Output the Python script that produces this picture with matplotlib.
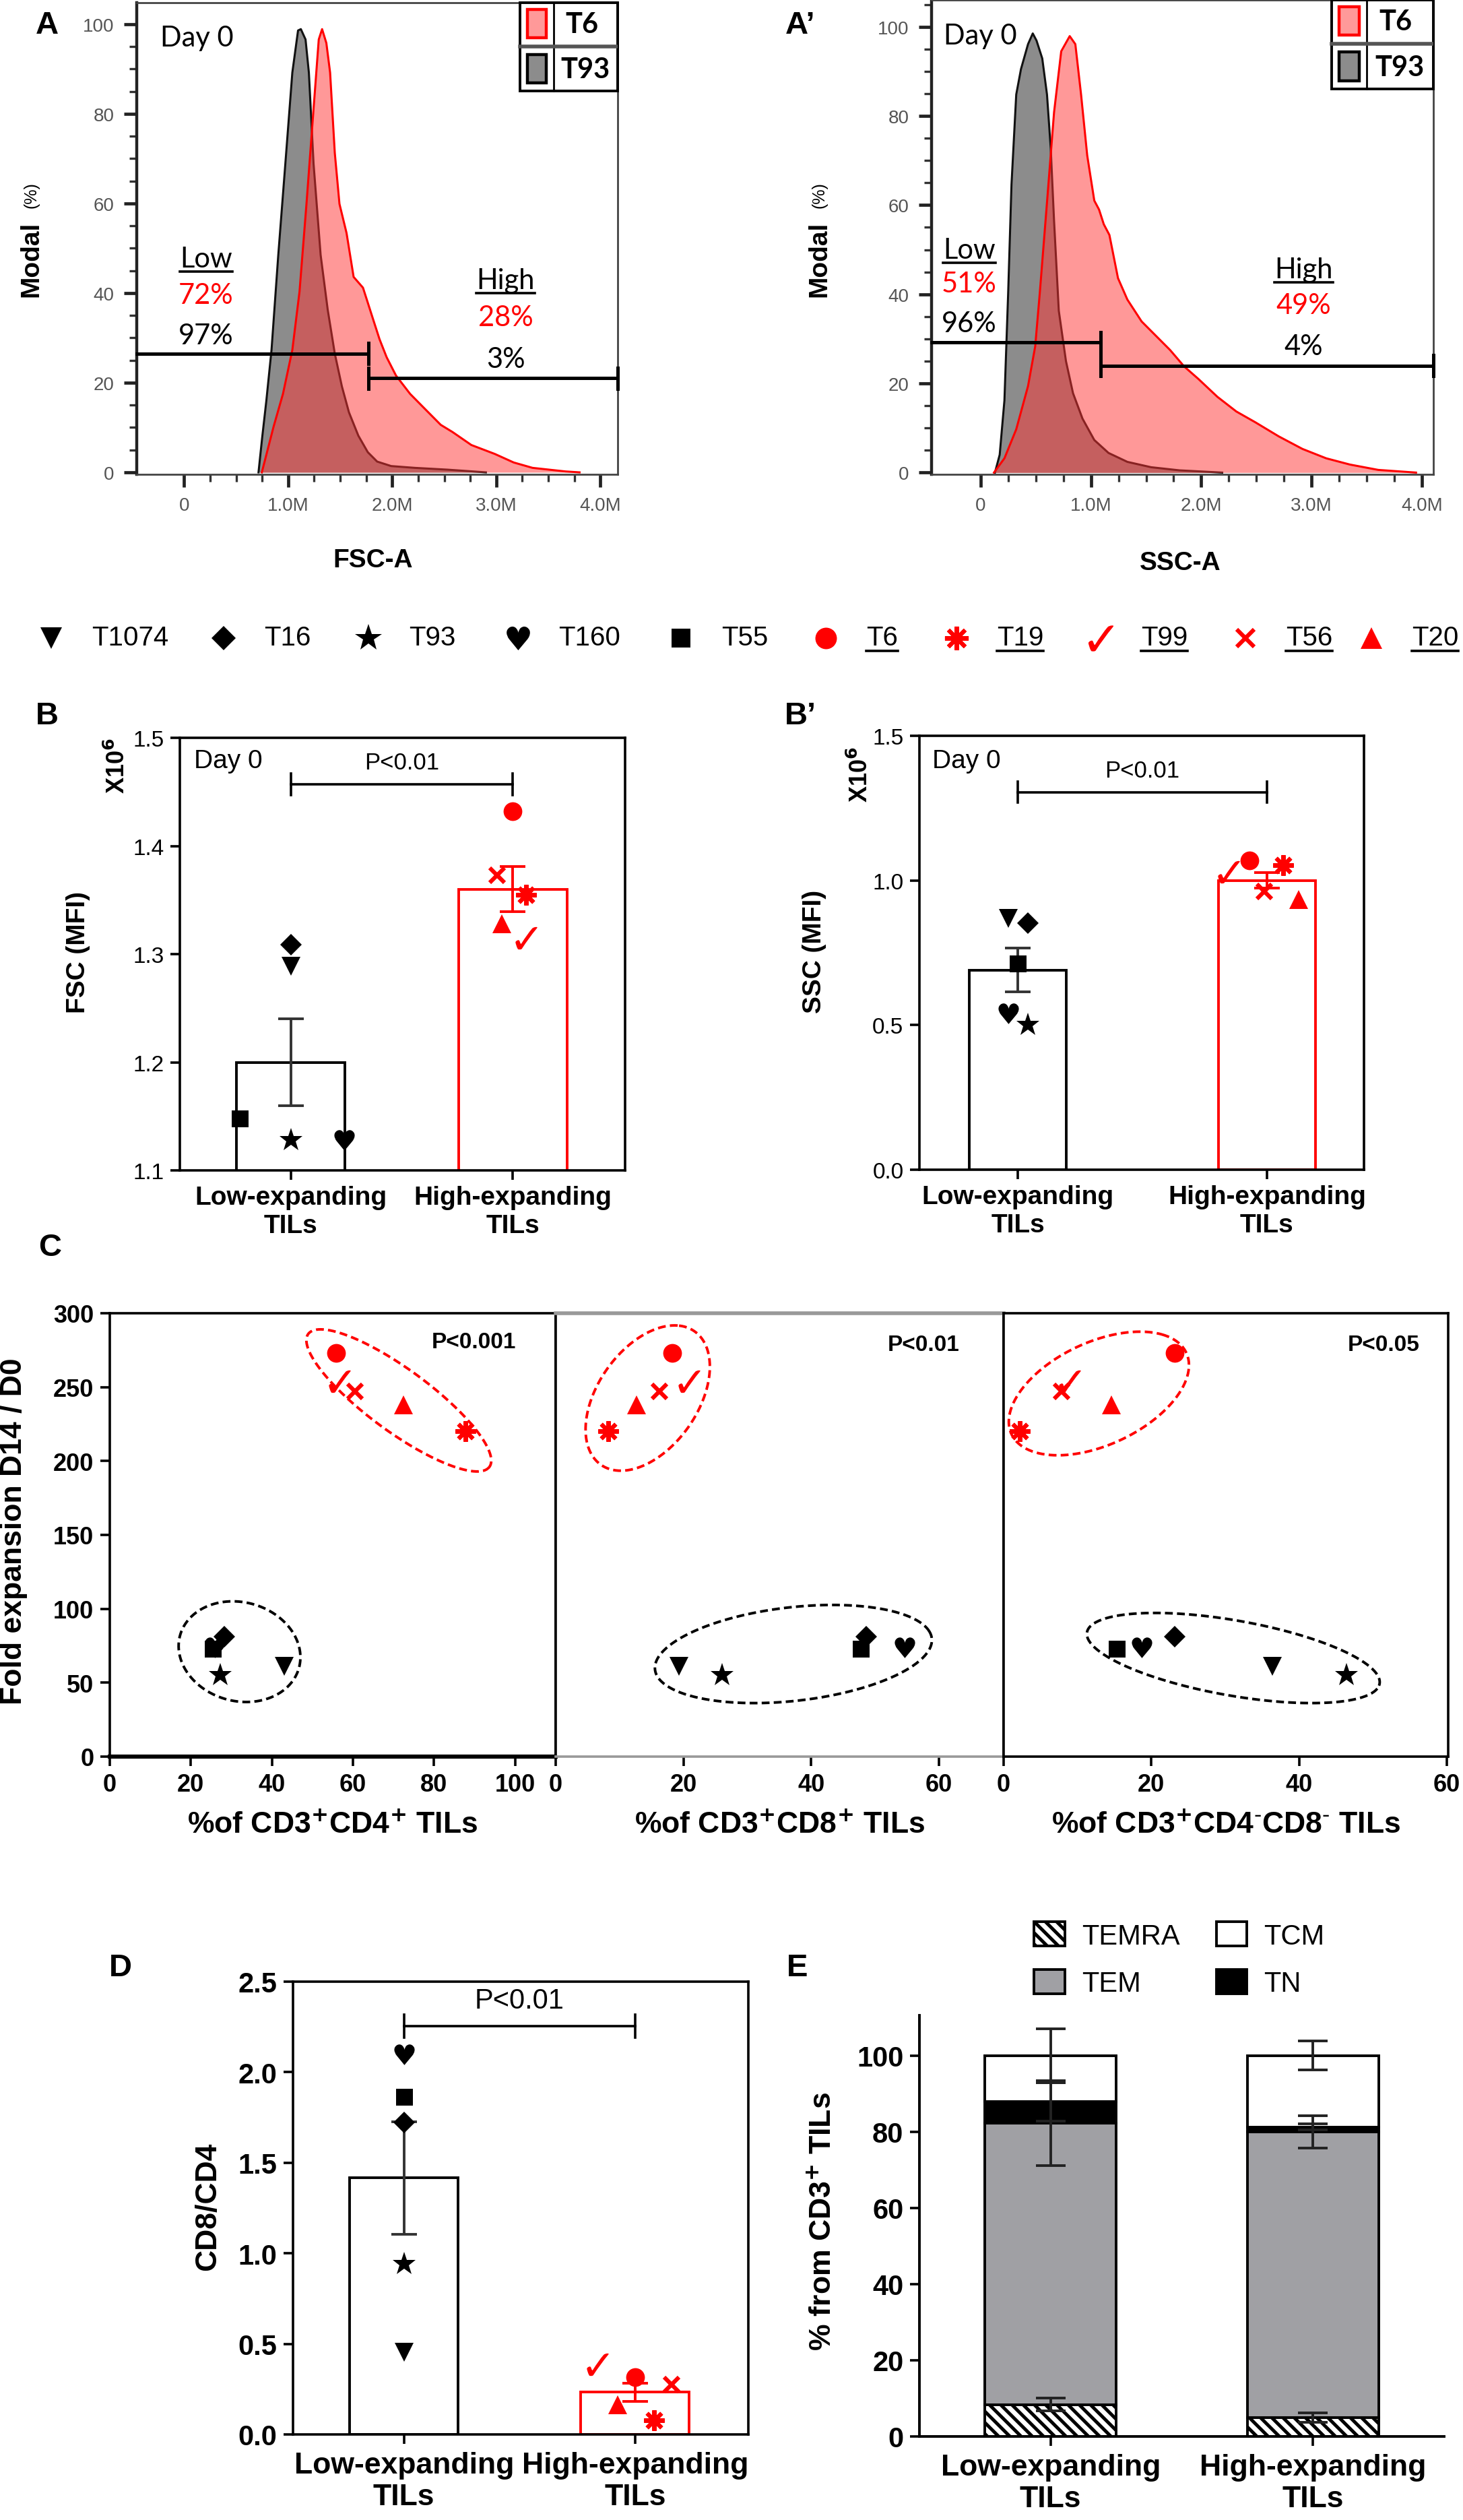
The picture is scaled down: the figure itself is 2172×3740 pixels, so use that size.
import numpy as np
import matplotlib
matplotlib.use('Agg')
import matplotlib.pyplot as plt
from matplotlib.patches import Patch, Rectangle
from matplotlib.lines import Line2D
from matplotlib.ticker import FixedLocator, MultipleLocator

plt.rcParams['font.family'] = ['Liberation Sans', 'DejaVu Sans']
plt.rcParams['hatch.linewidth'] = 1.8
CAL = ['Lato', 'DejaVu Sans']

W, H, DPI = 2172, 3741, 200

# ---------------- A / A' : day-0 histograms (x in millions, y in % of mode) ----------------
fsc_t93_x = [0.715, 0.75, 0.79, 0.84, 0.905, 0.973, 1.04, 1.095, 1.122, 1.167, 1.199, 1.244,
             1.312, 1.38, 1.448, 1.516, 1.584, 1.674, 1.765, 1.855, 1.99, 2.217, 2.53, 2.9]
fsc_t93_y = [0, 7.7, 15.9, 27.3, 48.5, 68.9, 89.2, 98.6, 98.9, 96.6, 89.2, 68.9,
             48.5, 36.3, 26.5, 19.2, 13.4, 8.2, 4.5, 2.4, 1.4, 1.0, 0.6, 0]
fsc_t6_x = [0.747, 0.86, 0.95, 1.04, 1.109, 1.176, 1.244, 1.294, 1.326, 1.367, 1.403, 1.448,
            1.493, 1.561, 1.629, 1.719, 1.81, 1.878, 1.946, 2.036, 2.172, 2.308, 2.466, 2.579,
            2.76, 2.986, 3.167, 3.348, 3.665, 3.8]
fsc_t6_y = [0, 10.2, 17.5, 27.3, 40.3, 59.9, 81.1, 96.6, 98.9, 95.8, 89.2, 71.3,
            59.9, 53.4, 43.6, 41.2, 34.6, 29.7, 25.7, 21.6, 17.5, 14.3, 10.6, 9.0,
            6.1, 4.1, 2.2, 1.0, 0.2, 0]
ssc_t93_x = [0.129, 0.172, 0.215, 0.249, 0.279, 0.322, 0.365, 0.429, 0.472, 0.506, 0.558, 0.601,
             0.635, 0.665, 0.708, 0.773, 0.837, 0.923, 1.03, 1.159, 1.33, 1.545, 1.803, 2.19]
ssc_t93_y = [0, 4, 16.2, 40.4, 64.6, 84.8, 90.5, 96.1, 98.5, 96.9, 92.9, 84.8,
             72.7, 56.5, 36.3, 25, 17.8, 12.1, 7.3, 4.4, 2.4, 1.2, 0.5, 0]
ssc_t6_x = [0.12, 0.215, 0.322, 0.429, 0.494, 0.536, 0.601, 0.665, 0.73, 0.807, 0.858, 0.91,
            0.966, 1.03, 1.073, 1.116, 1.167, 1.245, 1.33, 1.459, 1.588, 1.717, 1.845, 1.974,
            2.146, 2.318, 2.489, 2.704, 2.918, 3.133, 3.348, 3.605, 3.948]
ssc_t6_y = [0, 3.2, 9.7, 19.4, 28.3, 40.4, 60.6, 80.8, 94.5, 97.9, 96.1, 84.8,
            71.1, 61, 59, 55.7, 53.3, 43.6, 38.8, 33.9, 30.7, 27.5, 23.8, 21,
            17, 13.7, 11.3, 8.1, 5.3, 3.2, 1.8, 0.6, 0]
fsc_gate, fsc_gate_lvl = 1.77, [26.5, 21.0]
ssc_gate, ssc_gate_lvl = 1.09, [29.2, 24.0]
fsc_pct_t6, fsc_pct_t93 = ['72%', '28%'], ['97%', '3%']
ssc_pct_t6, ssc_pct_t93 = ['51%', '49%'], ['96%', '4%']
flow_ticks = ['0', '1.0M', '2.0M', '3.0M', '4.0M']

# ---------------- samples ----------------
samples = ['T1074', 'T16', 'T93', 'T160', 'T55', 'T6', 'T19', 'T99', 'T56', 'T20']
groups = ['Low-expanding\nTILs', 'High-expanding\nTILs']

# B: FSC MFI (x10^6), B': SSC MFI (x10^6); low = first five samples, high = last five
fsc_low = [1.289, 1.309, 1.128, 1.128, 1.148]
fsc_high = [1.432, 1.355, 1.315, 1.373, 1.328]
fsc_mean, fsc_sem = [1.20, 1.36], [0.04, 0.021]
ssc_low = [0.868, 0.852, 0.501, 0.540, 0.713]
ssc_high = [1.068, 1.052, 1.029, 0.963, 0.935]
ssc_mean, ssc_sem = [0.69, 1.00], [0.076, 0.027]

# C: fold expansion D14/D0 vs subset percentages
fold = [61, 81, 55, 74, 73, 273, 220, 254, 247, 238]
pct_cd4 = [43.0, 28.3, 27.3, 26.0, 25.5, 55.9, 87.7, 56.7, 60.5, 72.5]
pct_cd8 = [19.3, 48.6, 26.0, 54.6, 47.8, 18.2, 8.2, 20.9, 16.2, 12.7]
pct_dn = [36.4, 23.2, 46.4, 18.7, 15.3, 23.2, 2.2, 8.9, 7.8, 14.6]
c_pvals = ['P<0.001', 'P<0.01', 'P<0.05']

# D: CD8/CD4 ratio
ratio_low = [0.453, 1.723, 0.94, 2.098, 1.865]
ratio_high = [0.318, 0.078, 0.388, 0.277, 0.163]
ratio_mean, ratio_sem = [1.416, 0.233], [0.31, 0.05]

# E: memory subsets (% of CD3+), stacked bottom to top
subsets = ['TEMRA', 'TEM', 'TN', 'TCM']
temra, temra_err = [8.4, 5.0], [1.7, 1.2]
tem, tem_err = [73.9, 75.0], [11.1, 4.3]
tn, tn_err = [5.6, 1.3], [5.0, 0.8]
tcm, tcm_err = [12.1, 18.7], [7.1, 3.8]

# ---------------- styles ----------------
RED = '#ff0000'
sample_marker = ['v', 'D', '*', '$\u2665$', 's', 'o', (8, 2, 0), '$\u2713$', 'x', '^']
sample_color = ['k'] * 5 + [RED] * 5
sample_ms = [10, 8, 13, 11, 9, 10, 11, 12, 8, 10]
low_jit_b, high_jit_b = [0, 0, 0, 0.24, -0.23], [0, 0.06, 0.06, -0.07, -0.05]
low_jit_b2, high_jit_b2 = [-0.04, 0.04, 0.04, -0.04, 0], [-0.07, 0.066, -0.155, -0.01, 0.128]
low_jit_d, high_jit_d = [0, 0, 0, 0, 0], [0, 0.082, -0.163, 0.157, -0.075]


def box(l, t, r, b):
    return [l / W, 1 - b / H, (r - l) / W, (b - t) / H]


def put(ax, x, y, i, scale=1.0):
    m = sample_marker[i]
    lined = m == 'x' or isinstance(m, tuple)
    ax.plot(x, y, ls='none', marker=m, ms=sample_ms[i] * scale, color=sample_color[i],
            mew=2.2 if lined else 0, zorder=6, clip_on=False)


fig = plt.figure(figsize=(W / DPI, H / DPI), dpi=DPI)
underlined = []


def flow_panel(ax, gx, gy, rx, ry, gate, lvl, xl, yl):
    ax.fill_between(gx, gy, 0, color='#8c8c8c', lw=0, zorder=1)
    ax.plot(gx, gy, color='#111111', lw=1.1, zorder=2)
    ax.fill_between(rx, ry, 0, color='#ff3333', alpha=0.5, lw=0, zorder=3)
    ax.plot(rx, ry, color=RED, lw=1.1, zorder=4)
    ax.plot([xl[0], gate], [lvl[0], lvl[0]], color='k', lw=1.8, zorder=7, clip_on=False)
    ax.plot([gate, xl[1]], [lvl[1], lvl[1]], color='k', lw=1.8, zorder=7, clip_on=False)
    for x, y in ((gate, lvl[0]), (gate, lvl[1]), (xl[1], lvl[1])):
        ax.plot([x, x], [y - 2.3, y + 2.3], color='k', lw=1.8, zorder=7, clip_on=False)
    ax.set_xlim(xl)
    ax.set_ylim(yl)
    ax.set_xticks(range(5))
    ax.set_xticklabels(flow_ticks)
    ax.xaxis.set_minor_locator(FixedLocator([0.25 * k for k in range(1, 17)]))
    ax.set_yticks(range(0, 101, 20))
    ax.yaxis.set_minor_locator(MultipleLocator(5))
    ax.tick_params(which='major', length=7, width=1.7, color='#222222', labelsize=10,
                   labelcolor='#555555', pad=5)
    ax.tick_params(which='minor', length=4, width=1.2, color='#333333')
    for s in ax.spines.values():
        s.set_color('#444444')
        s.set_linewidth(1.0)
    ax.spines['left'].set_linewidth(1.6)
    ax.spines['left'].set_color('#222222')
    # key table in the upper right corner
    tr = ax.transAxes
    ax.add_patch(Rectangle((0.797, 0.813), 0.203, 0.187, transform=tr, fc='white', ec='k',
                           lw=1.4, zorder=8, clip_on=False))
    ax.plot([0.867, 0.867], [0.813, 1.0], transform=tr, color='k', lw=1.0, zorder=9)
    ax.plot([0.797, 1.0], [0.907, 0.907], transform=tr, color='#555555', lw=2.0, zorder=9)
    ax.add_patch(Rectangle((0.812, 0.926), 0.04, 0.06, transform=tr, fc='#ff9999', ec=RED,
                           lw=1.6, zorder=10))
    ax.add_patch(Rectangle((0.812, 0.83), 0.04, 0.06, transform=tr, fc='#8c8c8c', ec='k',
                           lw=1.6, zorder=10))
    ax.text(0.925, 0.955, 'T6', transform=tr, ha='center', va='center', fontsize=15,
            fontweight='bold', family=CAL, zorder=10)
    ax.text(0.933, 0.858, 'T93', transform=tr, ha='center', va='center', fontsize=15,
            fontweight='bold', family=CAL, zorder=10)


def gate_text(ax, day_x, low_x, high_x, ys_low, ys_high, pct6, pct93):
    ax.text(day_x, ys_low[3], 'Day 0', ha='left', va='center', fontsize=15, family=CAL, zorder=9)
    t = ax.text(low_x, ys_low[0], 'Low', ha='center', va='center', fontsize=15, family=CAL, zorder=9)
    underlined.append(t)
    ax.text(low_x, ys_low[1], pct6[0], ha='center', va='center', fontsize=15, family=CAL,
            color=RED, zorder=9)
    ax.text(low_x, ys_low[2], pct93[0], ha='center', va='center', fontsize=15, family=CAL, zorder=9)
    t = ax.text(high_x, ys_high[0], 'High', ha='center', va='center', fontsize=15, family=CAL, zorder=9)
    underlined.append(t)
    ax.text(high_x, ys_high[1], pct6[1], ha='center', va='center', fontsize=15, family=CAL,
            color=RED, zorder=9)
    ax.text(high_x, ys_high[2], pct93[1], ha='center', va='center', fontsize=15, family=CAL, zorder=9)


axA = fig.add_axes(box(203, 5, 917, 705))
flow_panel(axA, fsc_t93_x, fsc_t93_y, fsc_t6_x, fsc_t6_y, fsc_gate, fsc_gate_lvl,
           (-0.455, 4.166), (-0.45, 104.8))
gate_text(axA, -0.23, 0.21, 3.09, [47.7, 39.5, 30.5, 97], [42.8, 34.6, 25.3], fsc_pct_t6, fsc_pct_t93)

axA2 = fig.add_axes(box(1383, 1, 2128, 705))
flow_panel(axA2, ssc_t93_x, ssc_t93_y, ssc_t6_x, ssc_t6_y, ssc_gate, ssc_gate_lvl,
           (-0.446, 4.105), (-0.4, 106.0))
gate_text(axA2, -0.335, -0.105, 2.93, [50, 42.4, 33.5, 98], [45.6, 37.6, 28.3], ssc_pct_t6, ssc_pct_t93)

for x in (46, 1216):
    fig.text(x / W, 1 - 385 / H, 'Modal', rotation=90, ha='center', va='center',
             fontsize=14, fontweight='bold')
    fig.text((x + 1) / W, 1 - 290 / H, '(%)', rotation=90, ha='center', va='center', fontsize=9)
fig.text(554 / W, 1 - 832 / H, 'FSC-A', ha='center', va='center', fontsize=14, fontweight='bold')
fig.text(1752 / W, 1 - 836 / H, 'SSC-A', ha='center', va='center', fontsize=14, fontweight='bold')

# ---------------- sample key row ----------------
leg = fig.add_axes(box(0, 920, W, 975))
leg.set_xlim(0, W)
leg.set_ylim(0, 1)
leg.axis('off')
key_x = [76, 332, 547, 769, 1011, 1226, 1420, 1634, 1849, 2036]
for i, s in enumerate(samples):
    put(leg, key_x[i], 0.5, i, scale=1.15)
    t = leg.text(key_x[i] + 60, 0.5, s, ha='left', va='center', fontsize=14.5)
    if i >= 5:
        underlined.append(t)


# ---------------- B / B' / D dot-bar panels ----------------
def dot_panel(ax, lowv, lowj, highv, highj, means, sems, bw, xl, yl, yticks, fmt):
    for i, c in enumerate(['k', RED]):
        ax.bar(i, means[i], width=bw, color='white', edgecolor=c, lw=1.4, zorder=1)
        ax.errorbar(i, means[i], yerr=sems[i], fmt='none', ecolor='#333333' if i == 0 else RED,
                    elinewidth=1.4, capsize=7, capthick=1.4, zorder=2)
    for k in range(5):
        put(ax, lowj[k], lowv[k], k)
        put(ax, 1 + highj[k], highv[k], 5 + k)
    ax.set_xlim(xl)
    ax.set_ylim(yl)
    ax.set_yticks(yticks)
    ax.set_yticklabels([fmt % v for v in yticks])
    ax.set_xticks([0, 1])
    ax.set_xticklabels(groups, fontweight='bold')
    for s in ax.spines.values():
        s.set_linewidth(1.3)
        s.set_color('k')
    ax.tick_params(length=5, width=1.3, color='k')


def sig(ax, y, h, ty, size):
    ax.plot([0, 1], [y, y], color='k', lw=1.3, zorder=3)
    for x in (0, 1):
        ax.plot([x, x], [y - h, y + h], color='k', lw=1.3, zorder=3)
    ax.text(0.5, ty, 'P<0.01', ha='center', va='center', fontsize=size)


axB = fig.add_axes(box(267, 1096, 928, 1738))
dot_panel(axB, fsc_low, low_jit_b, fsc_high, high_jit_b, fsc_mean, fsc_sem, 0.49,
          (-0.5, 1.506), (1.1, 1.5), [1.1, 1.2, 1.3, 1.4, 1.5], '%.1f')
sig(axB, 1.457, 0.01, 1.477, 12.5)
axB.text(-0.436, 1.479, 'Day 0', ha='left', va='center', fontsize=14)
axB.tick_params(axis='y', labelsize=12)
axB.tick_params(axis='x', labelsize=14, pad=3)

axB2 = fig.add_axes(box(1365, 1093, 2025, 1737))
dot_panel(axB2, ssc_low, low_jit_b2, ssc_high, high_jit_b2, ssc_mean, ssc_sem, 0.39,
          (-0.396, 1.39), (0, 1.5), [0.0, 0.5, 1.0, 1.5], '%.1f')
sig(axB2, 1.305, 0.036, 1.38, 12.5)
axB2.text(-0.345, 1.413, 'Day 0', ha='left', va='center', fontsize=14)
axB2.tick_params(axis='y', labelsize=12)
axB2.tick_params(axis='x', labelsize=14, pad=3)

fig.text(175 / W, 1 - 1137 / H, r'X10$^{\mathbf{6}}$', rotation=90, ha='center', va='center',
         fontsize=13, fontweight='bold')
fig.text(116 / W, 1 - 1413 / H, 'FSC (MFI)', rotation=90, ha='center', va='center',
         fontsize=14, fontweight='bold')
fig.text(1278 / W, 1 - 1150 / H, r'X10$^{\mathbf{6}}$', rotation=90, ha='center', va='center',
         fontsize=13, fontweight='bold')
fig.text(1209 / W, 1 - 1412 / H, 'SSC (MFI)', rotation=90, ha='center', va='center',
         fontsize=14, fontweight='bold')

# ---------------- C: fold expansion vs subsets ----------------
c_boxes = [(163, 825, (0, 110), [0, 20, 40, 60, 80, 100]),
           (825, 1490, (0, 70.1), [0, 20, 40, 60]),
           (1490, 2150, (0, 60.2), [0, 20, 40, 60])]
c_x = [pct_cd4, pct_cd8, pct_dn]
c_xlabels = [r'%of CD3$^{\mathbf{+}}$CD4$^{\mathbf{+}}$ TILs',
             r'%of CD3$^{\mathbf{+}}$CD8$^{\mathbf{+}}$ TILs',
             '%of CD3$^{\\mathbf{+}}$CD4$^{\u2010}$CD8$^{\u2010}$ TILs']
# group outlines: centre, two semi-axis vectors (data units)
red_rings = [((71.3, 241), (22, -46), (6, 14)),
             ((14.4, 242.6), (4.9, 49), (8.4, -4.0)),
             ((12.9, 245.7), (8.5, 40), (8.75, -12.2))]
black_rings = [((32, 71), (15, -2), (-0.8, 34)),
               ((37.2, 69.4), (21.2, 15.8), (4.5, -29.2)),
               ((31.1, 66.7), (19.5, -20.7), (-3.6, -22.4))]
p_pos = [(89.8, 280.6), (57.6, 279), (51.5, 279)]
tt = np.linspace(0, 2 * np.pi, 240)


def ring(ax, c, a, b, color):
    ax.plot(c[0] + a[0] * np.cos(tt) + b[0] * np.sin(tt),
            c[1] + a[1] * np.cos(tt) + b[1] * np.sin(tt),
            color=color, lw=1.4, ls=(0, (3, 1.6)), zorder=3)


for k, (l, r, xl, xt) in enumerate(c_boxes):
    ax = fig.add_axes(box(l, 1950, r, 2608))
    for i in range(10):
        put(ax, c_x[k][i], fold[i], i)
    ring(ax, *red_rings[k], RED)
    ring(ax, *black_rings[k], 'k')
    ax.text(p_pos[k][0], p_pos[k][1], c_pvals[k], ha='center', va='center', fontsize=12,
            fontweight='bold')
    ax.set_xlim(xl)
    ax.set_ylim(0, 300)
    ax.set_xticks(xt)
    ax.set_xlabel(c_xlabels[k], fontsize=16, fontweight='bold', labelpad=8)
    for s in ax.spines.values():
        s.set_linewidth(1.3)
        s.set_color('k')
    ax.tick_params(length=5, width=1.3, labelsize=13)
    for lab in ax.get_xticklabels() + ax.get_yticklabels():
        lab.set_fontweight('bold')
    if k == 0:
        ax.set_yticks(range(0, 301, 50))
        ax.spines['bottom'].set_linewidth(2.2)
    else:
        ax.tick_params(axis='y', left=False, labelleft=False)
    if k == 1:
        ax.spines['top'].set_color('#999999')
        ax.spines['bottom'].set_color('#999999')
        ax.spines['top'].set_linewidth(2.0)
fig.text(21 / W, 1 - 2273 / H, 'Fold expansion D14 / D0', rotation=90, ha='center', va='center',
         fontsize=16, fontweight='bold')

# ---------------- D: CD8/CD4 ----------------
axD = fig.add_axes(box(435, 2942, 1111, 3614))
dot_panel(axD, ratio_low, low_jit_d, ratio_high, high_jit_d, ratio_mean, ratio_sem, 0.47,
          (-0.48, 1.49), (0, 2.5), [0.0, 0.5, 1.0, 1.5, 2.0, 2.5], '%.1f')
sig(axD, 2.254, 0.062, 2.396, 15)
axD.tick_params(labelsize=15)
axD.tick_params(axis='x', labelsize=16, pad=4)
for lab in axD.get_yticklabels():
    lab.set_fontweight('bold')
fig.text(309 / W, 1 - 3275 / H, 'CD8/CD4', rotation=90, ha='center', va='center',
         fontsize=16, fontweight='bold')

# ---------------- E: memory subsets ----------------
axE = fig.add_axes(box(1365, 2992, 2144, 3617))
grey = '#a0a0a4'
fills = ['white', grey, 'k', 'white']
hatches = ['\\\\\\\\', None, None, None]
bottom = np.zeros(2)
for vals, errs, fc, ht in zip([temra, tem, tn, tcm], [temra_err, tem_err, tn_err, tcm_err],
                              fills, hatches):
    axE.bar([0, 1], vals, bottom=bottom, width=0.5, color=fc, edgecolor='k', hatch=ht,
            lw=1.4, zorder=2)
    top = bottom + np.array(vals)
    axE.errorbar([0, 1], top, yerr=errs, fmt='none', ecolor='#222222', elinewidth=1.4,
                 capsize=8, capthick=1.4, zorder=4)
    bottom = top
axE.set_xlim(-0.5, 1.5)
axE.set_ylim(0, 110.6)
axE.set_yticks(range(0, 101, 20))
axE.set_xticks([0, 1])
axE.set_xticklabels(groups, fontweight='bold')
axE.spines['top'].set_visible(False)
axE.spines['right'].set_visible(False)
for s in ('left', 'bottom'):
    axE.spines[s].set_linewidth(1.4)
axE.tick_params(length=5, width=1.3, labelsize=15)
axE.tick_params(axis='x', labelsize=16, pad=4)
for lab in axE.get_yticklabels():
    lab.set_fontweight('bold')
fig.text(1223 / W, 1 - 3297 / H, r'% from CD3$^{\mathbf{+}}$ TILs', rotation=90, ha='center',
         va='center', fontsize=16, fontweight='bold')
handles = [Patch(fc=fills[i], ec='k', hatch=hatches[i], lw=1.4, label=subsets[i])
           for i in (0, 1, 3, 2)]
fig.legend(handles=handles, ncol=2, loc='lower left', bbox_to_anchor=(1535 / W, 1 - 2965 / H),
           frameon=False, fontsize=15, handlelength=1.1, handleheight=0.95, handletextpad=0.6,
           columnspacing=1.3, labelspacing=0.7, borderpad=0, borderaxespad=0)

# ---------------- panel letters ----------------
for (x, y), s in zip([(70, 38), (1188, 38), (70, 1063), (1188, 1063), (74, 1852), (179, 2921),
                      (1184, 2921)], ['A', 'A\u2019', 'B', 'B\u2019', 'C', 'D', 'E']):
    fig.text(x / W, 1 - y / H, s, ha='center', va='center', fontsize=17, fontweight='bold')

# underline gate names and high-expanding sample ids
fig.canvas.draw()
rend = fig.canvas.get_renderer()
inv = fig.transFigure.inverted()
for t in underlined:
    bb = t.get_window_extent(rend).transformed(inv)
    fig.add_artist(Line2D([bb.x0, bb.x1], [bb.y0, bb.y0], transform=fig.transFigure,
                          color='k', lw=1.3))

fig.savefig('out.png', dpi=DPI)
